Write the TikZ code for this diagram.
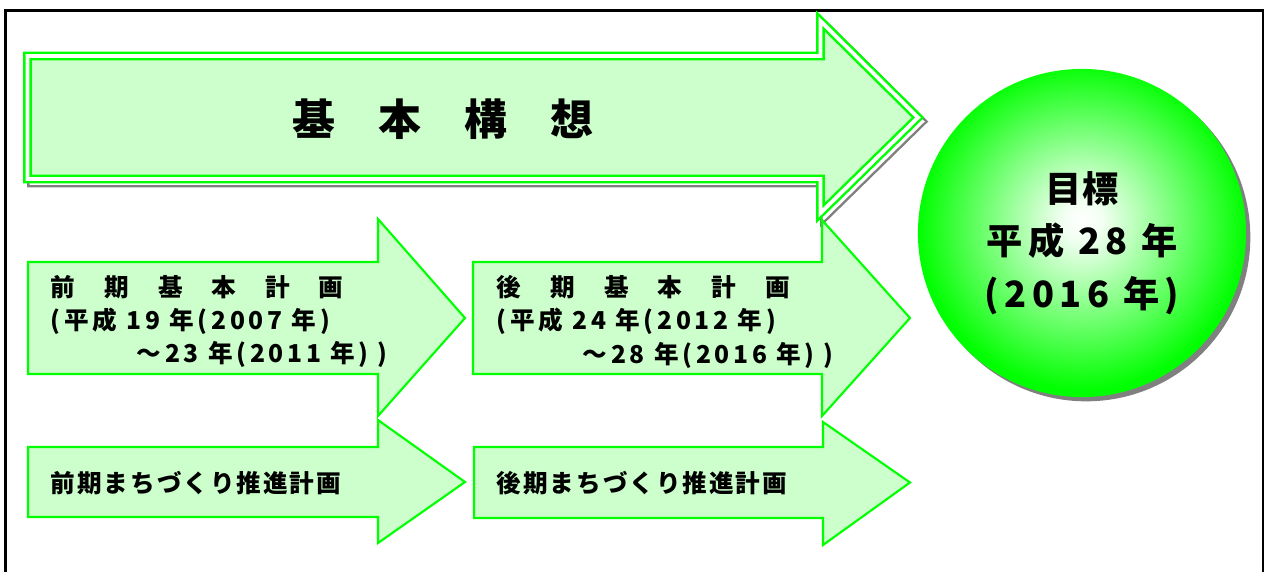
\documentclass[tikz,border=0pt]{standalone}
\usepackage{fontspec}
\setmainfont{Noto Sans CJK JP}
\usetikzlibrary{positioning,calc,shadows}

\definecolor{arrowgreen}{HTML}{00FF00}
\definecolor{palegreen}{HTML}{CCFFCC}
\newcommand{\wsp}{\hspace{1.18em}}
\newcommand{\spaced}[1]{{\addfontfeature{LetterSpace=15}#1}}
\pgfdeclareradialshading{goalball}{\pgfpoint{0bp}{2bp}}{color(0bp)=(white); color(3bp)=(white!95!arrowgreen);
	color(25bp)=(arrowgreen); color(50bp)=(arrowgreen)}

\begin{document}
\begin{tikzpicture}[x=0.01cm,y=-0.01cm,
	flat/.style={draw=arrowgreen,fill=palegreen,line width=0.6pt},
	bigarrow/.style={draw=arrowgreen,double=white,double distance=1.1pt,line width=0.7pt,fill=palegreen},
	bigshadow/.style={draw=gray,double=white,double distance=1.1pt,line width=0.7pt},
	lbl/.style={font=\bfseries\fontsize{7}{9.4}\selectfont,align=left,inner sep=0pt}]
\useasboundingbox (0,0) rectangle (1267,572);
\draw[line width=0.8pt] (5.5,572) -- (5.5,10.5) -- (1263,10.5) -- (1263,572);

% long arrow
\foreach \s/\st in {4/bigshadow,0/bigarrow}
	\draw[\st,shift={(\s,\s)}] (27.5,56) -- (820.5,56) -- (820.5,21) -- (918,117.5)
		-- (820.5,213) -- (820.5,179) -- (27.5,179) -- cycle;
\node[font=\bfseries\fontsize{12.2}{14}\selectfont] (vision) at (443,119) {基\hspace{1em}本\hspace{1em}構\hspace{1em}想};

% plans
\foreach \l/\t/\b/\h/\ht/\hb/\tip in {28/262/374/378/219/416/465, 473/262/374/822/220/416/910,
		28/447/517/378/420/543/465, 474/447/518/823/422/545/910}
	\draw[flat] (\l,\t) -- (\h,\t) -- (\h,\ht) -- (\tip,{(\t+\b)/2}) -- (\h,\hb) -- (\h,\b) -- (\l,\b) -- cycle;

\node[lbl,anchor=north west] (plan1) at (50,275) {前\wsp 期\wsp 基\wsp 本\wsp 計\wsp 画\\
	\spaced{(平成 19 年(2007 年)}\\
	\hspace*{3.5em}\spaced{～23 年(2011 年) )}};
\node[lbl,anchor=north west] (plan2) at (496,275) {後\wsp 期\wsp 基\wsp 本\wsp 計\wsp 画\\
	\spaced{(平成 24 年(2012 年)}\\
	\hspace*{3.5em}\spaced{～28 年(2016 年) )}};
\node[lbl,anchor=west] (town1) at (50,483) {{\addfontfeature{LetterSpace=8}前期まちづくり推進計画}};
\node[lbl,anchor=west] (town2) at (496,483) {{\addfontfeature{LetterSpace=8}後期まちづくり推進計画}};

% goal
\node[circle,minimum size=3.28cm,inner sep=0pt,shading=goalball,
	drop shadow={shadow xshift=1.2pt,shadow yshift=-1.2pt,fill=gray,opacity=1}] (goal) at (1082,233) {};
\node[font=\bfseries\fontsize{10.3}{15}\selectfont,align=center] (goaltext) at (1082,243)
	{目標\\ \spaced{平成 28 年}\\ \spaced{(2016 年)}};
\end{tikzpicture}
\end{document}
